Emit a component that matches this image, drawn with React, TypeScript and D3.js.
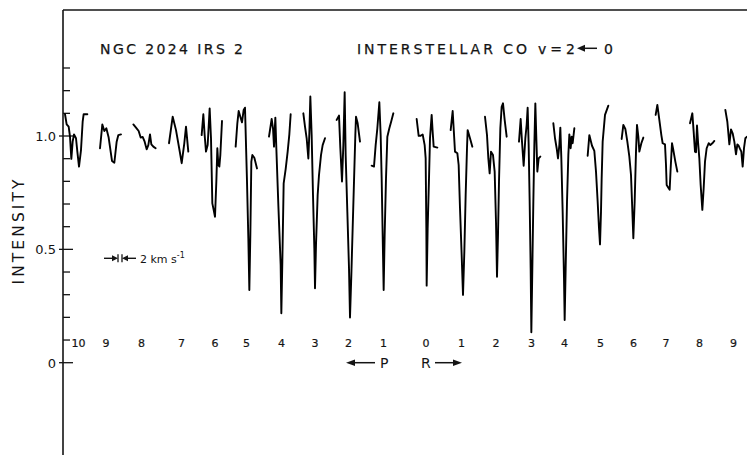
import React from 'react';
import * as d3 from 'd3';

// CO v=2-0 line labels (P branch then R branch) and their positions on the montage axis (km/s)
const pLabels = ['10', '9', '8', '7', '6', '5', '4', '3', '2', '1'];
const rLabels = ['0', '1', '2', '3', '4', '5', '6', '7', '8', '9'];
const lineCenters = [7.7, 21.5, 39.3, 59.3, 76, 91.8, 109.3, 126, 142.7, 160.2,
  181.5, 199.3, 216.5, 234.3, 250.7, 268.8, 285.2, 301.5, 318.2, 335.2];

// spectrum pieces around each line: [position km/s, normalised intensity]
const p10 = [[1.0, 1.096], [1.83, 1.051], [2.83, 1.041], [3.5, 0.997], [4.17, 0.899], [4.83, 0.975], [5.5, 1.007], [6.5, 0.99], [7.17, 0.931], [8.0, 0.865], [9.0, 0.938], [9.83, 1.063], [10.33, 1.096], [12.17, 1.096]];
const p9 = [[18.5, 0.946], [19.67, 1.051], [20.67, 1.022], [21.67, 1.034], [22.83, 0.993], [23.83, 0.931], [24.5, 0.89], [25.67, 0.882], [26.83, 0.975], [27.67, 1.004], [29.0, 1.007]];
const p8 = [[35.17, 1.051], [36.5, 1.037], [37.83, 1.022], [38.83, 0.993], [39.83, 0.996], [40.83, 0.975], [41.83, 0.941], [42.67, 0.96], [43.5, 1.007], [44.17, 0.963], [45.17, 0.953], [46.33, 0.946]];
const p7 = [[53.0, 0.968], [54.85, 1.085], [56.5, 1.026], [58.5, 0.925], [59.35, 0.88], [60.65, 0.968], [61.5, 1.041], [62.65, 0.931]];
const p6 = [[69.33, 1.004], [70.17, 1.096], [70.83, 1.004], [71.5, 0.931], [72.33, 0.96], [73.33, 1.122], [74.0, 0.99], [74.67, 0.703], [75.33, 0.674], [76.0, 0.644], [76.67, 0.799], [77.17, 0.946], [77.67, 0.872], [78.17, 0.865], [78.67, 0.916], [79.5, 1.066]];
const p5 = [[86.33, 0.953], [87.17, 1.056], [87.83, 1.11], [88.67, 1.085], [89.5, 1.06], [90.33, 1.115], [91.0, 1.125], [92.0, 0.799], [92.67, 0.549], [93.17, 0.321], [93.67, 0.563], [94.17, 0.887], [94.67, 0.916], [95.67, 0.904], [97.0, 0.857]];
const p4 = [[103.0, 0.997], [104.33, 1.075], [105.0, 1.034], [105.5, 0.953], [106.17, 1.081], [106.67, 0.946], [107.67, 0.696], [108.83, 0.431], [109.17, 0.218], [109.67, 0.446], [110.33, 0.791], [111.33, 0.854], [112.33, 0.931], [113.17, 1.007], [113.83, 1.096]];
const p3 = [[120.17, 1.1], [121.0, 1.041], [121.83, 0.99], [122.67, 0.901], [123.17, 1.012], [123.67, 1.174], [124.33, 1.004], [125.0, 0.74], [125.67, 0.504], [126.0, 0.328], [126.5, 0.519], [127.33, 0.74], [128.0, 0.828], [129.0, 0.916], [129.83, 0.96], [131.0, 0.99]];
const p2 = [[136.83, 1.071], [138.0, 1.09], [138.67, 0.946], [139.5, 0.799], [140.17, 0.96], [140.83, 1.193], [141.33, 0.916], [142.17, 0.666], [143.0, 0.416], [143.5, 0.199], [144.17, 0.387], [144.83, 0.593], [145.5, 0.799], [146.17, 1.004], [146.5, 1.085], [147.33, 1.056], [148.5, 0.975]];
const p1 = [[154.33, 0.869], [155.5, 0.865], [156.33, 0.96], [157.17, 1.034], [158.17, 1.149], [158.83, 1.004], [159.33, 0.813], [159.83, 0.563], [160.33, 0.321], [160.83, 0.563], [161.5, 0.813], [162.17, 0.997], [163.17, 1.034], [164.17, 1.066], [165.17, 1.1]];
const r0 = [[176.83, 1.075], [177.83, 1.001], [178.83, 1.001], [179.83, 1.007], [180.83, 0.96], [181.33, 0.901], [181.67, 0.593], [181.83, 0.34], [182.33, 0.593], [183.0, 0.813], [183.5, 0.99], [184.33, 1.093], [184.83, 1.019], [185.33, 0.953], [187.17, 0.949]];
const r1 = [[193.83, 1.026], [194.83, 1.11], [195.33, 1.034], [196.0, 0.931], [197.17, 0.924], [197.83, 0.872], [198.5, 0.681], [199.33, 0.475], [200.0, 0.299], [200.67, 0.49], [201.33, 0.74], [202.0, 0.946], [202.33, 1.026], [203.5, 0.99], [204.67, 0.953]];
const r2 = [[211.0, 1.085], [212.0, 1.004], [212.67, 0.901], [213.33, 0.835], [214.0, 0.931], [215.0, 0.916], [215.83, 0.843], [216.5, 0.622], [217.0, 0.379], [217.5, 0.563], [218.0, 0.799], [218.67, 1.034], [219.33, 1.129], [220.0, 1.144], [220.83, 1.071], [221.83, 0.997]];
const r3 = [[228.0, 0.975], [228.83, 1.075], [229.5, 0.975], [230.33, 0.869], [231.17, 0.99], [231.83, 1.049], [232.33, 1.125], [232.83, 0.96], [233.33, 0.71], [233.83, 0.416], [234.17, 0.134], [234.67, 0.416], [235.17, 0.71], [235.67, 0.96], [236.17, 1.144], [236.67, 0.99], [237.17, 0.843], [237.83, 0.901], [238.67, 0.909]];
const r4 = [[245.17, 1.056], [246.0, 0.99], [246.83, 0.946], [247.5, 0.901], [248.17, 0.96], [248.67, 1.037], [249.17, 0.901], [249.83, 0.666], [250.5, 0.372], [250.83, 0.188], [251.33, 0.416], [252.0, 0.71], [252.67, 0.916], [253.17, 1.007], [253.83, 0.946], [254.33, 0.997], [254.83, 0.968], [255.67, 1.034]];
const r5 = [[262.33, 0.913], [263.17, 1.004], [264.0, 0.975], [264.5, 0.957], [265.67, 0.934], [266.5, 0.843], [267.33, 0.71], [268.0, 0.593], [268.5, 0.522], [269.0, 0.666], [269.33, 0.813], [269.83, 0.975], [271.0, 1.093], [272.67, 1.134]];
const r6 = [[279.33, 0.987], [280.17, 1.049], [281.17, 1.031], [282.17, 0.975], [283.17, 0.909], [284.0, 0.828], [284.5, 0.71], [285.17, 0.549], [285.83, 0.71], [286.5, 0.931], [287.0, 1.049], [287.67, 0.997], [288.17, 0.931], [289.17, 0.968], [290.17, 0.993]];
const r7 = [[296.33, 1.093], [297.17, 1.137], [298.17, 1.071], [299.17, 1.004], [299.83, 0.968], [301.0, 0.963], [301.5, 0.872], [301.83, 0.784], [302.67, 0.772], [303.33, 0.763], [303.83, 0.857], [304.5, 0.968], [305.17, 0.938], [306.17, 0.887], [307.17, 0.843]];
const r8 = [[313.5, 1.056], [314.67, 1.1], [315.33, 1.019], [316.0, 0.931], [316.5, 0.928], [317.0, 1.046], [317.5, 0.975], [318.17, 0.901], [318.83, 0.784], [319.67, 0.674], [320.33, 0.769], [321.0, 0.887], [321.83, 0.946], [322.83, 0.968], [323.67, 0.96], [324.67, 0.968], [325.67, 0.978]];
const r9 = [[331.17, 1.115], [332.17, 1.063], [333.17, 0.963], [334.0, 1.029], [334.83, 1.012], [335.67, 0.975], [336.5, 0.919], [337.17, 0.963], [337.83, 0.957], [338.5, 0.943], [339.17, 0.931], [339.83, 0.865], [340.5, 0.946], [341.17, 0.99], [342.0, 0.997]];

const segments = [p10, p9, p8, p7, p6, p5, p4, p3, p2, p1, r0, r1, r2, r3, r4, r5, r6, r7, r8, r9];

const yTickValues = [0, 0.1, 0.2, 0.3, 0.4, 0.5, 0.6, 0.7, 0.8, 0.9, 1.0, 1.1, 1.2, 1.3];
const yTickLabels: Record<string, string> = { '0': '0', '0.5': '0.5', '1': '1.0' };
const scaleBar = [27.5, 29.5]; // 2 km/s

const W = 747;
const H = 455;
const FONT = '"DejaVu Sans", Verdana, sans-serif';
const INK = '#141414';

export default function App() {
  const x = d3.scaleLinear().domain([0, 342]).range([63, 747]);
  const y = d3.scaleLinear().domain([0, 1]).range([362.7, 136]);
  const line = d3.line<number[]>().x(d => x(d[0])).y(d => y(d[1]));
  const labels = [...pLabels, ...rLabels];
  const barY = 258.3;

  return (
    <svg width={W} height={H} style={{ position: 'absolute', left: 0, top: 0, background: '#fff' }}
      fontFamily={FONT} fill={INK}>
      {/* frame: left axis and top line */}
      <line x1={63} x2={63} y1={10} y2={H} stroke={INK} strokeWidth={1.6} />
      <line x1={63} x2={W} y1={10} y2={10} stroke={INK} strokeWidth={1.6} />

      {yTickValues.map(v => {
        const lab = yTickLabels[String(v)];
        return (
          <g key={v} transform={`translate(0,${y(v)})`}>
            <line x1={lab ? 59 : 63} x2={lab ? 73 : 70} stroke={INK} strokeWidth={1.3} />
            {lab && <text x={56} y={5} fontSize={13} textAnchor="end">{lab}</text>}
          </g>
        );
      })}

      <text transform="translate(24,232) rotate(-90)" fontSize={15.5} textAnchor="middle"
        textLength={105} lengthAdjust="spacing">INTENSITY</text>

      <g stroke={INK} strokeWidth={0.25}>
        <text x={100} y={53.5} fontSize={14} textLength={143} lengthAdjust="spacing">NGC 2024  IRS 2</text>
        <text x={357} y={53.5} fontSize={14} textLength={170} lengthAdjust="spacing">INTERSTELLAR CO</text>
        <text x={538} y={53.5} fontSize={14} textLength={37} lengthAdjust="spacing">v = 2</text>
        <text x={604} y={53.5} fontSize={14}>0</text>
      </g>
      <line x1={583} x2={597} y1={48.3} y2={48.3} stroke={INK} strokeWidth={1.5} />
      <path d="M577,48.3 L585,44.8 L585,51.8 Z" />

      {segments.map((s, i) => (
        <path key={i} d={line(s) ?? ''} fill="none" stroke="#000" strokeWidth={1.9}
          strokeLinejoin="round" strokeLinecap="round" />
      ))}

      {labels.map((l, i) => (
        <text key={i} x={x(lineCenters[i])} y={347} fontSize={11} textAnchor="middle"
          stroke={INK} strokeWidth={0.2}>{l}</text>
      ))}

      {/* branch arrows */}
      <line x1={352} x2={375} y1={362.7} y2={362.7} stroke={INK} strokeWidth={1.5} />
      <path d="M346,362.7 L355,359.5 L355,365.9 Z" />
      <text x={380} y={368} fontSize={14}>P</text>
      <text x={421} y={368} fontSize={14}>R</text>
      <line x1={435} x2={456} y1={362.7} y2={362.7} stroke={INK} strokeWidth={1.5} />
      <path d="M462,362.7 L453,359.5 L453,365.9 Z" />

      {/* velocity scale bar */}
      <line x1={104} x2={x(scaleBar[0]) - 3} y1={barY} y2={barY} stroke={INK} strokeWidth={1.4} />
      <path d={`M${x(scaleBar[0])},${barY} L${x(scaleBar[0]) - 6},${barY - 3} L${x(scaleBar[0]) - 6},${barY + 3} Z`} />
      <line x1={x(scaleBar[0])} x2={x(scaleBar[0])} y1={barY - 4} y2={barY + 4} stroke={INK} strokeWidth={1.3} />
      <line x1={x(scaleBar[1])} x2={x(scaleBar[1])} y1={barY - 4} y2={barY + 4} stroke={INK} strokeWidth={1.3} />
      <path d={`M${x(scaleBar[1])},${barY} L${x(scaleBar[1]) + 6},${barY - 3} L${x(scaleBar[1]) + 6},${barY + 3} Z`} />
      <line x1={x(scaleBar[1]) + 3} x2={136} y1={barY} y2={barY} stroke={INK} strokeWidth={1.4} />
      <text x={140} y={262.5} fontSize={11}>2 km s<tspan dy={-5} fontSize={8}>-1</tspan></text>
    </svg>
  );
}
